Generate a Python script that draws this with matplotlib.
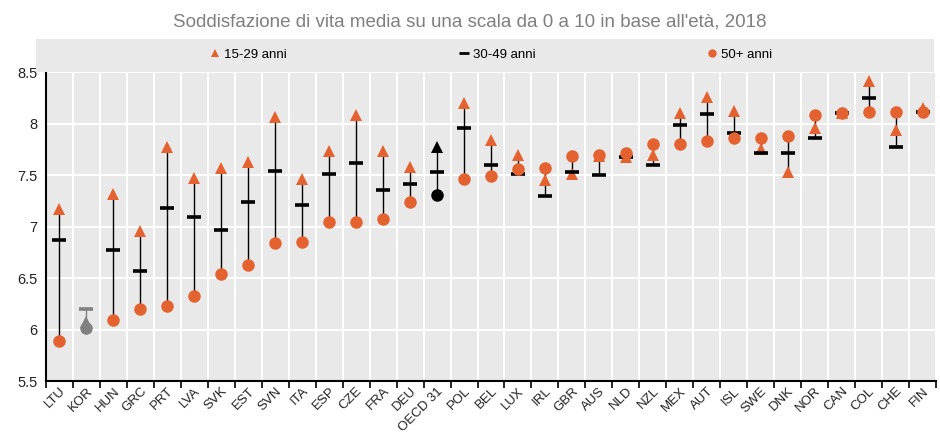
import numpy as np
import matplotlib.pyplot as plt
from matplotlib.lines import Line2D
from matplotlib.patches import Rectangle

# Dati
paesi = ['LTU', 'KOR', 'HUN', 'GRC', 'PRT', 'LVA', 'SVK', 'EST', 'SVN', 'ITA', 'ESP',
         'CZE', 'FRA', 'DEU', 'OECD 31', 'POL', 'BEL', 'LUX', 'IRL', 'GBR', 'AUS', 'NLD',
         'NZL', 'MEX', 'AUT', 'ISL', 'SWE', 'DNK', 'NOR', 'CAN', 'COL', 'CHE', 'FIN']
giovani = [7.17, 6.07, 7.32, 6.96, 7.77, 7.47, 7.57, 7.63, 8.06, 7.46, 7.73,
           8.08, 7.73, 7.58, 7.77, 8.20, 7.84, 7.69, 7.45, 7.51, 7.68, 7.67,
           7.69, 8.10, 8.26, 8.12, 7.75, 7.53, 7.96, 8.10, 8.41, 7.94, 8.15]
adulti = [6.87, 6.20, 6.77, 6.57, 7.18, 7.09, 6.97, 7.24, 7.54, 7.21, 7.51,
          7.62, 7.35, 7.41, 7.53, 7.96, 7.60, 7.51, 7.30, 7.53, 7.50, 7.67,
          7.60, 7.99, 8.09, 7.91, 7.71, 7.71, 7.86, 8.10, 8.25, 7.77, 8.11]
anziani = [5.89, 6.01, 6.09, 6.20, 6.23, 6.33, 6.54, 6.63, 6.84, 6.85, 7.04,
           7.04, 7.07, 7.24, 7.31, 7.46, 7.49, 7.56, 7.57, 7.68, 7.69, 7.71,
           7.80, 7.80, 7.83, 7.86, 7.86, 7.88, 8.08, 8.10, 8.11, 8.11, 8.11]

arancio = '#E3622F'
grigio_sfondo = '#E9E9E9'
font_stretto = ['Liberation Sans Narrow', 'Liberation Sans', 'DejaVu Sans']

colori = []
for p in paesi:
    if p == 'KOR':
        colori.append('#808080')
    elif p == 'OECD 31':
        colori.append('black')
    else:
        colori.append(arancio)

fig = plt.figure(figsize=(9.4, 4.36), dpi=100)
fig.patches.append(Rectangle((36 / 940, 1 - 72 / 436), (934 - 36) / 940, 33 / 436,
                             transform=fig.transFigure, facecolor=grigio_sfondo,
                             edgecolor='none', zorder=0))
ax = fig.add_axes([46 / 940, 1 - 381 / 436, 890 / 940, 309 / 436])
ax.set_facecolor(grigio_sfondo)

x = np.arange(len(paesi))
for i in x:
    valori = [giovani[i], adulti[i], anziani[i]]
    col_linea = '#808080' if paesi[i] == 'KOR' else 'black'
    ax.vlines(i, min(valori), max(valori), color=col_linea, lw=1.0, zorder=2)
    ax.plot(i, giovani[i], marker='^', ms=9, color=colori[i], mew=0, zorder=3)
    ax.plot(i, adulti[i], marker='_', ms=10, mew=2.6, color=col_linea, zorder=4)
    ax.plot(i, anziani[i], marker='o', ms=9, color=colori[i], mew=0, zorder=5)

ax.set_xlim(-0.5, len(paesi) - 0.5)
ax.set_ylim(5.5, 8.5)
ax.set_yticks([5.5, 6, 6.5, 7, 7.5, 8, 8.5])
ax.set_yticklabels(['5.5', '6', '6.5', '7', '7.5', '8', '8.5'], family=font_stretto,
                   fontsize=10.5, color='#222222')
ax.set_xticks(x)
ax.set_xticklabels(paesi, rotation=45, ha='right', rotation_mode='anchor',
                   family=font_stretto, fontsize=9.5, color='#222222')
ax.tick_params(axis='x', length=0, pad=3)
ax.tick_params(axis='y', length=0, pad=6)

# griglia bianca sui confini delle categorie
ax.set_xticks(np.arange(-0.5, len(paesi)), minor=True)
ax.tick_params(axis='x', which='minor', length=5, width=1.2, color='black')
ax.grid(True, which='minor', axis='x', color='white', lw=1.5)
ax.grid(True, which='major', axis='y', color='white', lw=1.5)
ax.set_axisbelow(True)

for lato in ['top', 'right']:
    ax.spines[lato].set_visible(False)
ax.spines['left'].set_linewidth(1.5)
ax.spines['bottom'].set_linewidth(1.5)

fig.text(0.5, 1 - 22 / 436, "Soddisfazione di vita media su una scala da 0 a 10 in base all'età, 2018",
         ha='center', va='center', fontsize=13.5, color='#7F7F7F', family=font_stretto)

maniglie = [
    Line2D([], [], marker='^', ls='none', color=arancio, ms=6, mew=0),
    Line2D([], [], marker='_', ls='none', color='black', ms=7, mew=2),
    Line2D([], [], marker='o', ls='none', color=arancio, ms=6, mew=0),
]
fig.legend(maniglie, ['15-29 anni', '30-49 anni', '50+ anni'], loc='center',
           bbox_to_anchor=(491 / 940, 1 - 55 / 436), ncol=3, frameon=False,
           prop={'family': font_stretto, 'size': 9.5}, handlelength=0.8,
           handletextpad=0.3, columnspacing=13)

fig.savefig('out.png', dpi=100)
